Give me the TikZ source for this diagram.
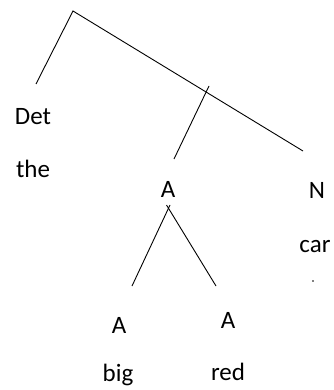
\documentclass[tikz,border=0pt]{standalone}
\usepackage{fontspec}
\setmainfont{Carlito}
\usepackage{tikz}

\begin{document}
\begin{tikzpicture}[
x=1pt, y=-1pt,
lbl/.style={
font=\fontsize{25}{30}\selectfont,
inner sep=0pt,
anchor=base
},
branch/.style={line width=0.9pt}
]
\useasboundingbox (0,0) rectangle (333,390);

% tree points
\coordinate (root) at (73,11);
\coordinate (detend) at (36,84);
\coordinate (nend) at (303,151);
\coordinate (mid) at (209,86);
\coordinate (aend) at (174,159);
\coordinate (aroot) at (168,209);
\coordinate (bigend) at (132,286);
\coordinate (redend) at (216,286);
\coordinate (xl) at (166.5,205);
\coordinate (xr) at (170,205);

% labels
\node[lbl] (det) at (33,125) {Det};
\node[lbl] (the) at (33,177) {the};
\node[lbl] (atop) at (168,197) {A};
\node[lbl] (n) at (317,198) {N};
\node[lbl] (car) at (315,252) {car};
\node[lbl] (aleft) at (119,333) {A};
\node[lbl] (aright) at (228,328) {A};
\node[lbl] (big) at (118,381) {big};
\node[lbl] (red) at (228,380) {red};
\fill (313,281) circle (0.9pt);

\draw[branch] (detend) -- (root) -- (nend);
\draw[branch] (mid) -- (aend);
\draw[branch] (bigend) -- (xr);
\draw[branch] (redend) -- (xl);

\end{tikzpicture}
\end{document}
